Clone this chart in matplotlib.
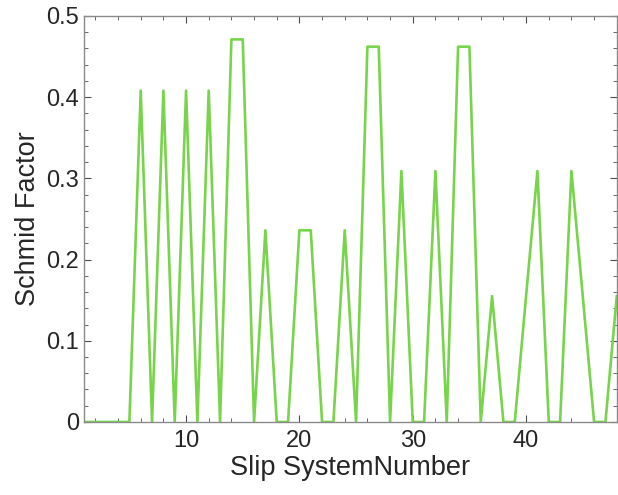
import matplotlib
matplotlib.use("Agg")
import matplotlib.pyplot as plt
from matplotlib.ticker import MultipleLocator

plt.rcParams['font.family'] = ['Liberation Sans', 'DejaVu Sans']

# Schmid factor for each of the 48 slip systems
slip_system = list(range(1, 49))
schmid_factor = [
    0, 0, 0, 0, 0, 0.408, 0, 0.408, 0, 0.408,
    0, 0.408, 0, 0.471, 0.471, 0, 0.236, 0, 0, 0.236,
    0.236, 0, 0, 0.236, 0, 0.462, 0.462, 0, 0.309, 0,
    0, 0.309, 0, 0.462, 0.462, 0, 0.155, 0, 0, 0.155,
    0.309, 0, 0, 0.309, 0.155, 0, 0, 0.155,
]

fig = plt.figure(figsize=(6.18, 4.95), dpi=100)
ax = fig.add_axes([0.136, 0.1475, 0.862, 0.8205])

ax.plot(slip_system, schmid_factor, color='#77D44B', linewidth=1.9)

ax.set_xlim(1, 48)
ax.set_ylim(0, 0.5)
ax.xaxis.set_major_locator(MultipleLocator(10))
ax.xaxis.set_minor_locator(MultipleLocator(2))
ax.yaxis.set_major_locator(MultipleLocator(0.1))
ax.yaxis.set_minor_locator(MultipleLocator(0.02))
ax.set_yticks([0, 0.1, 0.2, 0.3, 0.4, 0.5])
ax.set_yticklabels(['0', '0.1', '0.2', '0.3', '0.4', '0.5'])

for s in ax.spines.values():
    s.set_color('#8a8a8a')
    s.set_linewidth(1.0)
ax.tick_params(which='both', direction='in', top=True, right=True,
               color='#4d4d4d', labelsize=17, labelcolor='#262626')
ax.tick_params(axis='x', pad=6)
ax.tick_params(which='major', length=5, width=0.8)
ax.tick_params(which='minor', length=3, width=0.6)

ax.set_xlabel('Slip SystemNumber', fontsize=19.5, color='#262626', labelpad=2)
ax.set_ylabel('Schmid Factor', fontsize=19.5, color='#262626', labelpad=4)

fig.savefig('out.png', dpi=100)
